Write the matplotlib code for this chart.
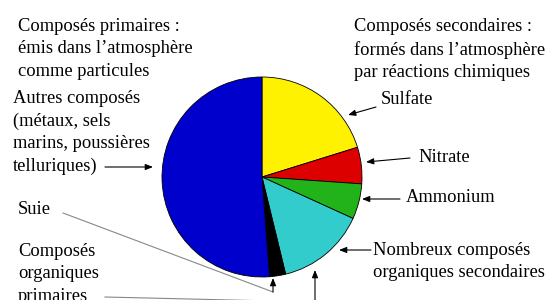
import matplotlib.pyplot as plt

plt.rcParams['font.family'] = ['Liberation Serif', 'DejaVu Serif']

# parts du camembert (%), dans le sens horaire depuis le haut
labels = ["Sulfate", "Nitrate", "Ammonium", "Nombreux composés organiques secondaires",
          "Suie", "Autres composés"]
values = [20.2, 5.9, 5.7, 14.4, 2.6, 51.2]
colors = ["#fff200", "#dd0000", "#22b31a", "#33cccc", "#000000", "#0000cc"]

H = 300

def p(x, y):
	# coordonnees pixel (origine en haut) -> coordonnees axes
	return (x, H - y)

fig = plt.figure(figsize=(5.48, 3.0), dpi=100)
ax = fig.add_axes([0, 0, 1, 1])
ax.pie(values, colors=colors, startangle=90, counterclock=False,
       center=p(262, 177), radius=100,
       wedgeprops=dict(edgecolor='black', linewidth=0.6))
ax.set_xlim(0, 548)
ax.set_ylim(0, H)
ax.set_aspect('equal')
ax.axis('off')

fs = 13.3
ls = 1.42
ax.text(*p(18, 18), "Composés primaires :\némis dans l\u2019atmosphère\ncomme particules",
        fontsize=fs, va='top', ha='left', linespacing=ls)
ax.text(*p(354, 18), "Composés secondaires :\nformés dans l\u2019atmosphère\npar réactions chimiques",
        fontsize=fs, va='top', ha='left', linespacing=ls)
ax.text(*p(13, 90), "Autres composés\n(métaux, sels\nmarins, poussières\ntelluriques)",
        fontsize=fs, va='top', ha='left', linespacing=ls)
ax.text(*p(381, 100), "Sulfate", fontsize=fs, va='center', ha='left')
ax.text(*p(418, 157), "Nitrate", fontsize=fs, va='center', ha='left')
ax.text(*p(406, 198), "Ammonium", fontsize=fs, va='center', ha='left')
ax.text(*p(373, 242), "Nombreux composés\norganiques secondaires",
        fontsize=fs, va='top', ha='left', linespacing=ls)
ax.text(*p(18, 210), "Suie", fontsize=fs, va='center', ha='left')
ax.text(*p(18, 243), "Composés\norganiques\nprimaires",
        fontsize=fs, va='top', ha='left', linespacing=ls)

arr = dict(arrowstyle='-|>,head_length=0.45,head_width=0.18', color='black', lw=0.8,
           shrinkA=0, shrinkB=0)

def fleche(x1, y1, x2, y2):
	ax.annotate("", xy=p(x2, y2), xytext=p(x1, y1), arrowprops=arr)

fleche(105, 167, 153, 167)
fleche(376, 107, 348, 115)
fleche(410, 158, 366, 162)
fleche(400, 199, 362, 199)
fleche(371, 250, 339, 250)

# Suie : trait gris puis fleche vers la part noire
ax.plot(*zip(p(63, 213), p(273, 292)), color='#888888', lw=0.8)
fleche(273, 292, 273, 278)

# composés organiques primaires
ax.plot(*zip(p(105, 297), p(315, 302)), color='#888888', lw=0.8)
fleche(315, 305, 315, 270)

fig.savefig("out.png", dpi=100)
